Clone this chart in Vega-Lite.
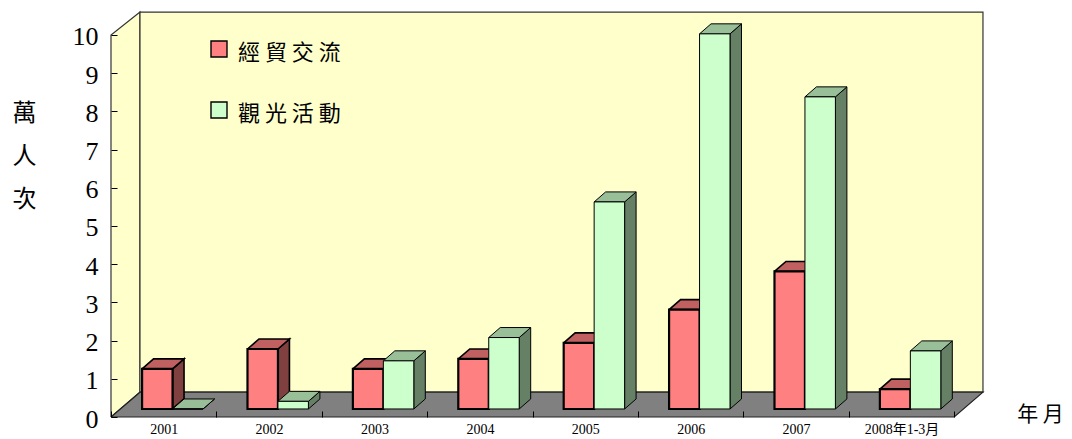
{
"$schema":"https://vega.github.io/schema/vega-lite/v6.json",
"width":1072,"height":439,"padding":0,"autosize":{"type":"none"},"background":"white",
"view":{"stroke":null},
"datasets":{
"bars":[
{"year":"2001","series":"經貿交流","v":1.05},{"year":"2001","series":"觀光活動","v":0.0},
{"year":"2002","series":"經貿交流","v":1.57},{"year":"2002","series":"觀光活動","v":0.2},
{"year":"2003","series":"經貿交流","v":1.05},{"year":"2003","series":"觀光活動","v":1.26},
{"year":"2004","series":"經貿交流","v":1.31},{"year":"2004","series":"觀光活動","v":1.87},
{"year":"2005","series":"經貿交流","v":1.73},{"year":"2005","series":"觀光活動","v":5.42},
{"year":"2006","series":"經貿交流","v":2.6},{"year":"2006","series":"觀光活動","v":9.82},
{"year":"2007","series":"經貿交流","v":3.6},{"year":"2007","series":"觀光活動","v":8.17},
{"year":"2008年1-3月","series":"經貿交流","v":0.52},{"year":"2008年1-3月","series":"觀光活動","v":1.52}
],
"walls":[
{"face":"left","k":0,"px":0,"py":0},{"face":"left","k":1,"px":0.275,"py":0.65},{"face":"left","k":2,"px":0.275,"py":10.6},{"face":"left","k":3,"px":0,"py":10},{"face":"left","k":4,"px":0,"py":0},
{"face":"back","k":0,"px":0.275,"py":0.65},{"face":"back","k":1,"px":8.273,"py":0.65},{"face":"back","k":2,"px":8.273,"py":10.6},{"face":"back","k":3,"px":0.275,"py":10.6},{"face":"back","k":4,"px":0.275,"py":0.65}
],
"floor":[
{"k":0,"px":0,"py":0},{"k":1,"px":8,"py":0},{"k":2,"px":8.273,"py":0.65},{"k":3,"px":0.275,"py":0.65},{"k":4,"px":0,"py":0}
]
},
"encoding":{
"x":{"field":"px","type":"quantitative","scale":{"domain":[-1.0531,9.1177],"nice":false,"zero":false},
"axis":{"orient":"bottom","offset":-22,"values":[0,1,2,3,4,5,6,7,8],"domain":false,"grid":false,"zindex":1,"tickSize":-6,"tickColor":"black","labelOffset":52.7,"labelPadding":11,"labelFontSize":14,"labelFont":"Liberation Serif, Noto Sans CJK TC","labelColor":"black","labelBaseline":"top","labelAlign":"center","labelBound":false,"labelFlush":false,"labelOverlap":false,
"labelExpr":"['2001','2002','2003','2004','2005','2006','2007','2008年1-3月',''][datum.value]",
"title":"年 月","titleFont":"Noto Sans CJK TC","titleFontSize":21,"titleFontWeight":"normal","titleColor":"black","titleX":1040,"titleY":-3,"titleBaseline":"middle","titleAlign":"center"}},
"y":{"field":"py","type":"quantitative","scale":{"domain":[-0.5759,10.916],"nice":false,"zero":false},
"axis":{"orient":"left","offset":-111,"values":[0,1,2,3,4,5,6,7,8,9,10],"domain":false,"grid":false,"zindex":1,"tickSize":-6,"tickColor":"black","labelPadding":19,"labelOffset":2,"labelFontSize":26,"labelFont":"Liberation Serif","labelColor":"black","labelBound":false,"labelFlush":false,"labelOverlap":false,"format":"d",
"title":["萬","人","次"],"titleFont":"Noto Sans CJK TC","titleFontSize":24,"titleFontWeight":"normal","titleColor":"black","titleAngle":0,"titleLineHeight":43,"titleX":-87,"titleY":113,"titleBaseline":"middle","titleAlign":"center"}}
},
"layer":[
{"data":{"name":"walls"},"mark":{"type":"line","fill":"#FFFFCC","stroke":"#333333","strokeWidth":1.2},
"encoding":{"detail":{"field":"face"},"order":{"field":"k","type":"quantitative"}}},
{"data":{"name":"floor"},"mark":{"type":"line","fill":"#808080","stroke":"#222222","strokeWidth":1.2},
"encoding":{"order":{"field":"k","type":"quantitative"}}},
{"data":{"name":"bars"},
"transform":[
{"calculate":"indexof(['2001','2002','2003','2004','2005','2006','2007','2008年1-3月'],datum.year)","as":"i"},
{"calculate":"datum.i+(datum.series==='經貿交流'?0.295:0.584)","as":"xL"},
{"calculate":"datum.xL+0.289","as":"xR"},
{"calculate":"0.21+datum.v","as":"yT"}
],
"layer":[
{"transform":[{"filter":"datum.series==='經貿交流'"},
{"calculate":"[datum.xR,datum.xR+0.109,datum.xR+0.109,datum.xR,datum.xR]","as":"px"},
{"calculate":"[0.21,0.472,datum.yT+0.262,datum.yT,0.21]","as":"py"},
{"calculate":"[0,1,2,3,4]","as":"k"},
{"flatten":["px","py","k"]}],
"mark":{"type":"line","fill":"#804040","stroke":"black","strokeWidth":1.6},
"encoding":{"detail":{"field":"year"},"order":{"field":"k","type":"quantitative"}}},
{"transform":[{"filter":"datum.series==='經貿交流'"},
{"calculate":"[datum.xL,datum.xR,datum.xR+0.109,datum.xL+0.109,datum.xL]","as":"px"},
{"calculate":"[datum.yT,datum.yT,datum.yT+0.262,datum.yT+0.262,datum.yT]","as":"py"},
{"calculate":"[0,1,2,3,4]","as":"k"},
{"flatten":["px","py","k"]}],
"mark":{"type":"line","fill":"#C06060","stroke":"black","strokeWidth":1.6},
"encoding":{"detail":{"field":"year"},"order":{"field":"k","type":"quantitative"}}},
{"transform":[{"filter":"datum.series==='經貿交流'"},
{"calculate":"datum.xL","as":"px"},{"calculate":"datum.xR","as":"px2"},{"calculate":"datum.yT","as":"py"},{"calculate":"0.21","as":"py2"}],
"mark":{"type":"bar","stroke":"black","strokeWidth":2.2},
"encoding":{"x2":{"field":"px2"},"y2":{"field":"py2"},
"fill":{"field":"series","type":"nominal","scale":{"domain":["經貿交流","觀光活動"],"range":["#FF8080","#CCFFCC"]},
"legend":{"orient":"none","legendX":208,"legendY":38,"direction":"vertical","title":null,"padding":0,"symbolType":"square","symbolSize":256,"symbolStrokeColor":"black","symbolStrokeWidth":1.4,"symbolOpacity":1,"labelFont":"Noto Sans CJK TC","labelFontSize":22,"labelColor":"black","labelLimit":200,"labelOffset":8,"rowPadding":35,"labelExpr":"join(split(datum.label,''),' ')","encode":{"labels":{"update":{"dy":{"value":4}}}}}}}},
{"transform":[{"filter":"datum.series==='觀光活動'"},
{"calculate":"[datum.xR,datum.xR+0.109,datum.xR+0.109,datum.xR,datum.xR]","as":"px"},
{"calculate":"[0.21,0.472,datum.yT+0.262,datum.yT,0.21]","as":"py"},
{"calculate":"[0,1,2,3,4]","as":"k"},
{"flatten":["px","py","k"]}],
"mark":{"type":"line","fill":"#668066","stroke":"black","strokeWidth":1},
"encoding":{"detail":{"field":"year"},"order":{"field":"k","type":"quantitative"}}},
{"transform":[{"filter":"datum.series==='觀光活動'"},
{"calculate":"[datum.xL,datum.xR,datum.xR+0.109,datum.xL+0.109,datum.xL]","as":"px"},
{"calculate":"[datum.yT,datum.yT,datum.yT+0.262,datum.yT+0.262,datum.yT]","as":"py"},
{"calculate":"[0,1,2,3,4]","as":"k"},
{"flatten":["px","py","k"]}],
"mark":{"type":"line","fill":"#99BF99","stroke":"black","strokeWidth":1},
"encoding":{"detail":{"field":"year"},"order":{"field":"k","type":"quantitative"}}},
{"transform":[{"filter":"datum.series==='觀光活動'"},
{"calculate":"datum.xL","as":"px"},{"calculate":"datum.xR","as":"px2"},{"calculate":"datum.yT","as":"py"},{"calculate":"0.21","as":"py2"}],
"mark":{"type":"bar","stroke":"black","strokeWidth":1},
"encoding":{"x2":{"field":"px2"},"y2":{"field":"py2"},
"fill":{"field":"series","type":"nominal","scale":{"domain":["經貿交流","觀光活動"],"range":["#FF8080","#CCFFCC"]}}}}
]}
]
}
